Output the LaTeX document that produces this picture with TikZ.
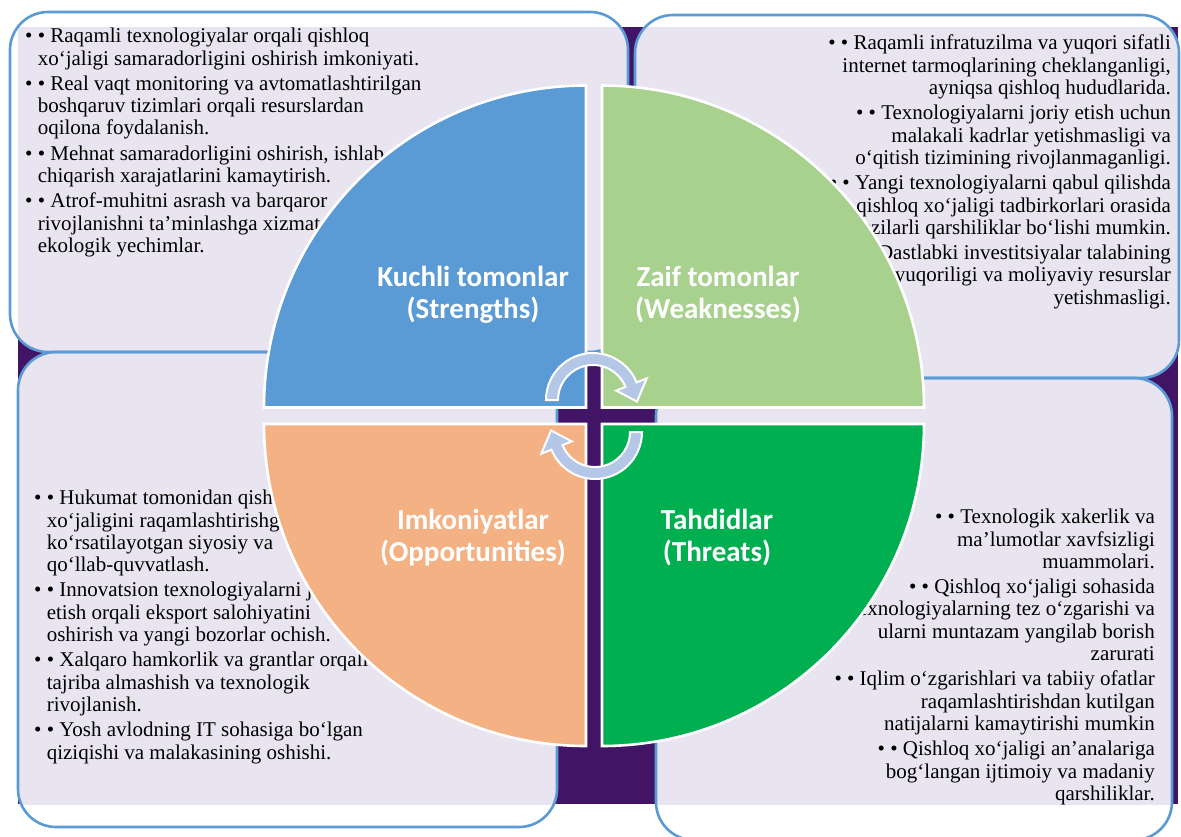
\documentclass[tikz,border=0pt]{standalone}
\usepackage{fontspec}
\setmainfont{Liberation Serif}
\newfontfamily\bodyfont{Liberation Serif}
\newfontfamily\titlefont{Carlito}
\usetikzlibrary{calc}
\definecolor{bgpurple}{RGB}{66,20,102}
\definecolor{lav}{RGB}{233,229,240}
\definecolor{boxblue}{RGB}{91,155,213}
\definecolor{qblue}{RGB}{91,155,213}
\definecolor{qlgreen}{RGB}{169,209,142}
\definecolor{qorange}{RGB}{244,177,131}
\definecolor{qgreen}{RGB}{0,176,80}
\definecolor{arrowblue}{RGB}{180,199,231}
\tikzset{
  boxwhite/.style={fill=white, rounded corners=38pt},
  boxfill/.style={fill=lav, rounded corners=38pt},
  boxline/.style={draw=boxblue, line width=2.6pt, rounded corners=38pt},
  quad/.style={draw=white, line width=2.6pt},
  txt/.style={inner sep=0pt, font=\bodyfont\fontsize{21pt}{22.3pt}\selectfont, text=black},
  ttl/.style={inner sep=0pt, align=center, text=white, font=\titlefont\bfseries\fontsize{29pt}{32pt}\selectfont},
  cyc/.style={fill=arrowblue, draw=white, line width=2pt, line join=miter},
}
\begin{document}
\begin{tikzpicture}[x=1pt,y=-1pt]
\useasboundingbox (0,0) rectangle (1181,836);
\fill[white] (0,0) rectangle (1181,836);
\fill[bgpurple] (18,27) rectangle (1178,804);
% boxes: white base
\path[boxwhite] (10,12) rectangle (628,352);
\path[boxwhite] (635,15) rectangle (1179,378);
\path[boxwhite] (18,352) rectangle (557,827);
\path[boxwhite] (656,378) rectangle (1172,840);
\begin{scope}
  \clip (18,27) rectangle (1178,804);
  \path[boxfill] (10,12) rectangle (628,352);
  \path[boxfill] (635,15) rectangle (1179,378);
  \path[boxfill] (18,352) rectangle (557,827);
  \path[boxfill] (656,378) rectangle (1172,840);
\end{scope}
\path[boxline] (10,12) rectangle (628,352);
\path[boxline] (635,15) rectangle (1179,378);
\path[boxline] (18,352) rectangle (557,827);
\path[boxline] (656,378) rectangle (1172,840);

% texts
\node[txt, anchor=north west, align=left] (sText) at (25,28) {%
• • Raqamli texnologiyalar orqali qishloq\\
\hspace*{12.6pt}xo‘jaligi samaradorligini oshirish imkoniyati.\\[3pt]
• • Real vaqt monitoring va avtomatlashtirilgan\\
\hspace*{12.6pt}boshqaruv tizimlari orqali resurslardan\\
\hspace*{12.6pt}oqilona foydalanish.\\[3pt]
• • Mehnat samaradorligini oshirish, ishlab\\
\hspace*{12.6pt}chiqarish xarajatlarini kamaytirish.\\[3pt]
• • Atrof-muhitni asrash va barqaror\\
\hspace*{12.6pt}rivojlanishni ta’minlashga xizmat\\
\hspace*{12.6pt}ekologik yechimlar.};

\node[txt, anchor=north east, align=right] (wText) at (1171,35) {%
• • Raqamli infratuzilma va yuqori sifatli\\
internet tarmoqlarining cheklanganligi,\\
ayniqsa qishloq hududlarida.\\[3pt]
• • Texnologiyalarni joriy etish uchun\\
malakali kadrlar yetishmasligi va\\
o‘qitish tizimining rivojlanmaganligi.\\[3pt]
• • Yangi texnologiyalarni qabul qilishda\\
qishloq xo‘jaligi tadbirkorlari orasida\\
sezilarli qarshiliklar bo‘lishi mumkin.\\[3pt]
• • Dastlabki investitsiyalar talabining\\
yuqoriligi va moliyaviy resurslar\\
yetishmasligi.};

\node[txt, anchor=north west, align=left] (oText) at (34,490) {%
• • Hukumat tomonidan qishloq\\
\hspace*{12.6pt}xo‘jaligini raqamlashtirishga\\
\hspace*{12.6pt}ko‘rsatilayotgan siyosiy va\\
\hspace*{12.6pt}qo‘llab-quvvatlash.\\[3pt]
• • Innovatsion texnologiyalarni joriy\\
\hspace*{12.6pt}etish orqali eksport salohiyatini\\
\hspace*{12.6pt}oshirish va yangi bozorlar ochish.\\[3pt]
• • Xalqaro hamkorlik va grantlar orqali\\
\hspace*{12.6pt}tajriba almashish va texnologik\\
\hspace*{12.6pt}rivojlanish.\\[3pt]
• • Yosh avlodning IT sohasiga bo‘lgan\\
\hspace*{12.6pt}qiziqishi va malakasining oshishi.};

\node[txt, anchor=north east, align=right] (tText) at (1155,509) {%
• • Texnologik xakerlik va\\
ma’lumotlar xavfsizligi\\
muammolari.\\[3pt]
• • Qishloq xo‘jaligi sohasida\\
texnologiyalarning tez o‘zgarishi va\\
ularni muntazam yangilab borish\\
zarurati\\[3pt]
• • Iqlim o‘zgarishlari va tabiiy ofatlar\\
raqamlashtirishdan kutilgan\\
natijalarni kamaytirishi mumkin\\[3pt]
• • Qishloq xo‘jaligi an’analariga\\
bog‘langan ijtimoiy va madaniy\\
qarshiliklar.};

% quadrants
\path[quad, fill=qblue] (586,407.5) -- (264,407.5) arc[start angle=180, end angle=270, radius=322] -- cycle;
\path[quad, fill=qlgreen] (602,407.5) -- (602,85.5) arc[start angle=270, end angle=360, radius=322] -- cycle;
\path[quad, fill=qorange] (586,424) -- (264,424) arc[start angle=180, end angle=90, radius=322] -- cycle;
\path[quad, fill=qgreen] (602,424) -- (924,424) arc[start angle=0, end angle=90, radius=322] -- cycle;

\node[ttl] (sTitle) at (473,295) {Kuchli tomonlar\\(Strengths)};
\node[ttl] (wTitle) at (718,295) {Zaif tomonlar\\(Weaknesses)};
\node[ttl] (oTitle) at (473,538) {Imkoniyatlar\\(Opportunities)};
\node[ttl] (tTitle) at (717,538) {Tahdidlar\\(Threats)};

% cycle arrows
\coordinate (c1) at (593,400);
\coordinate (c2) at (595,432);
\path[cyc] ($(c1)+(180:47)$) arc[start angle=180,end angle=338,radius=47]
  -- ($(c1)+(338:58)$) -- ($(c1)+(2:44)$) -- ($(c1)+(338:25)$)
  -- ($(c1)+(338:35)$) arc[start angle=338,end angle=180,radius=35] -- cycle;
\path[cyc] ($(c2)+(0:47)$) arc[start angle=0,end angle=158,radius=47]
  -- ($(c2)+(158:58)$) -- ($(c2)+(182:44)$) -- ($(c2)+(158:25)$)
  -- ($(c2)+(158:35)$) arc[start angle=158,end angle=0,radius=35] -- cycle;
\end{tikzpicture}
\end{document}
